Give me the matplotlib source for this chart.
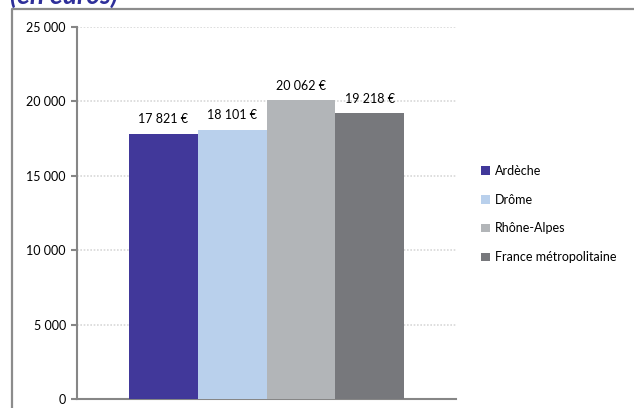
import matplotlib.pyplot as plt
from matplotlib.lines import Line2D
from matplotlib.patches import Patch

# Data
regions = ['Ardèche', 'Drôme', 'Rhône-Alpes', 'France métropolitaine']
values = [17821, 18101, 20062, 19218]
colors = ['#41389a', '#b9d0ec', '#b2b5b8', '#77787c']
yticks = [0, 5000, 10000, 15000, 20000, 25000]


def fmt(v):
    return f"{v:,}".replace(',', ' ')


plt.rcParams['font.family'] = ['Lato', 'DejaVu Sans']

fig = plt.figure(figsize=(6.34, 4.08), dpi=100)
ax = fig.add_axes([77 / 634, 1 - 399 / 408, (456 - 77) / 634, (399 - 27) / 408])

# Bars, one per region
for i, (name, v, c) in enumerate(zip(regions, values, colors)):
    ax.bar(i, v, width=1.0, color=c, label=name, zorder=3)
    ax.annotate(fmt(v) + ' €', (i, v), xytext=(0, 6), textcoords='offset points',
                ha='center', va='bottom', fontsize=9)

ax.set_xlim(-1.256, len(values) - 1 + 1.256)
ax.set_ylim(0, 25000)
ax.set_yticks(yticks)
ax.set_yticklabels([fmt(t) for t in yticks], fontsize=9)
ax.set_xticks([])
ax.grid(axis='y', color='#d8d8d8', linestyle=(0, (1, 1)), linewidth=1.2, zorder=0)

for side in ['top', 'right']:
    ax.spines[side].set_visible(False)
for side in ['left', 'bottom']:
    ax.spines[side].set_color('#868686')
    ax.spines[side].set_linewidth(1.5)
ax.tick_params(axis='y', length=4, width=1.5, color='#868686', pad=4)

# Legend
handles = [Patch(facecolor=c, edgecolor='none') for c in colors]
fig.legend(handles, regions, loc='center left', bbox_to_anchor=(470 / 634, 1 - 214 / 408),
           frameon=False, fontsize=9, handlelength=0.7, handleheight=0.7,
           handletextpad=0.4, labelspacing=1.35)

# Outer frame and cut-off title
fig.add_artist(Line2D([12 / 634, 12 / 634, 1.0], [0.0, 1 - 9 / 408, 1 - 9 / 408],
                      transform=fig.transFigure, color='#8c8c8c', linewidth=1.6))
fig.text(10 / 634, 1 - 4 / 408, '(en euros)', fontsize=19, fontweight='bold',
         fontstyle='italic', color='#2e2f9a', va='baseline', ha='left')

fig.savefig('out.png', dpi=100)
